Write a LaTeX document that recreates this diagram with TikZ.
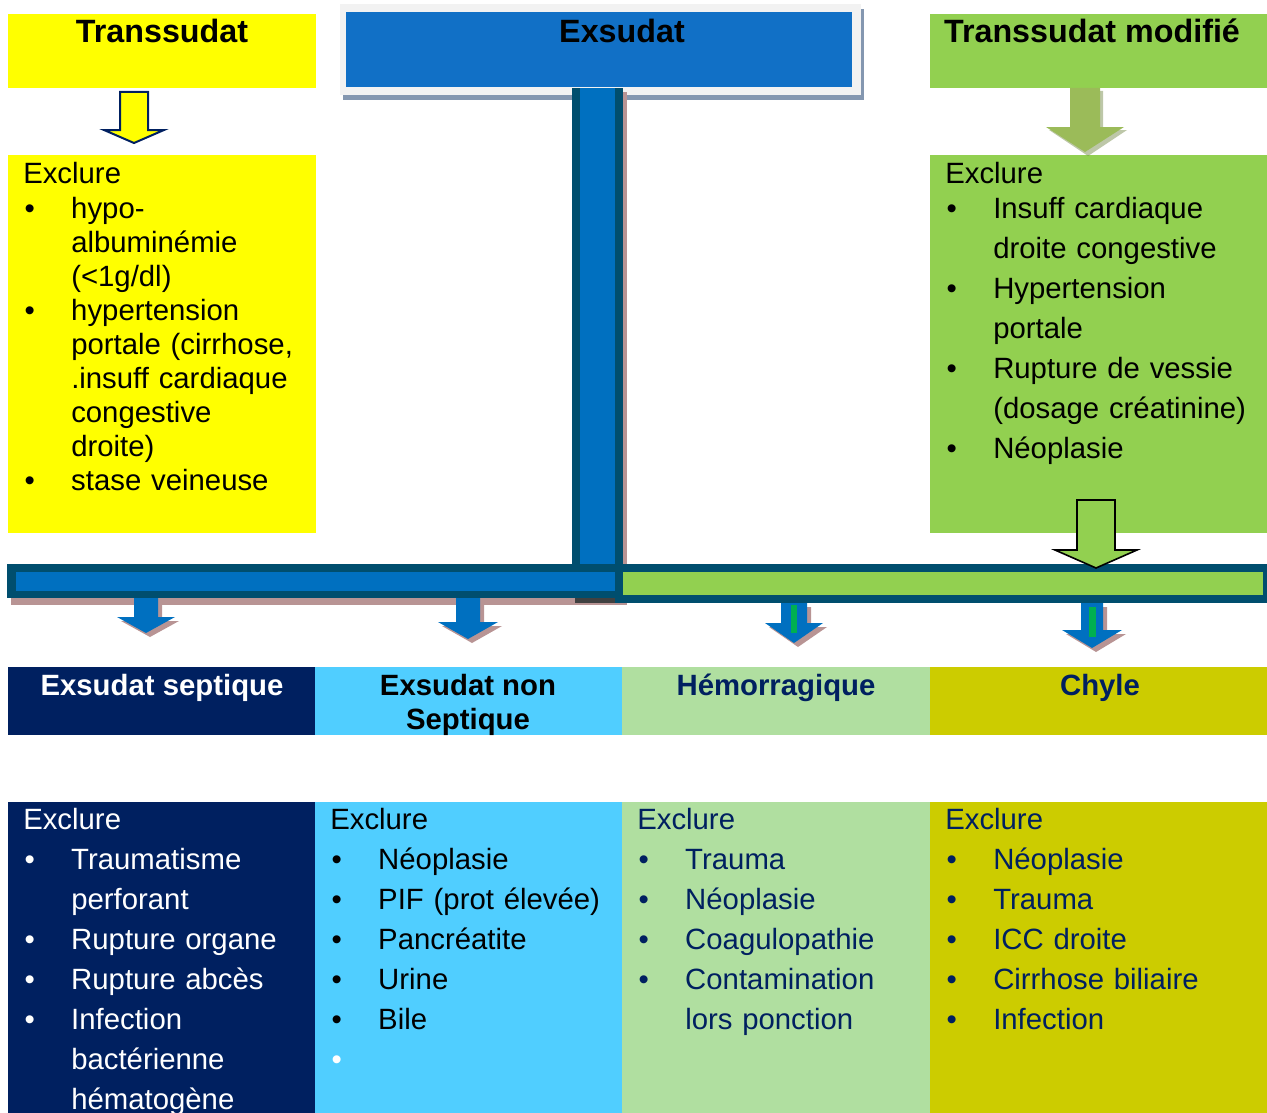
\documentclass[tikz,border=0pt]{standalone}
\usepackage{fontspec}
\setmainfont{Liberation Sans}

\definecolor{jaune}{RGB}{255,255,0}
\definecolor{bleuEx}{RGB}{17,112,198}
\definecolor{grisCadre}{RGB}{242,242,242}
\definecolor{ombreGris}{RGB}{132,151,176}
\definecolor{vertPomme}{RGB}{146,208,80}
\definecolor{vertOlive}{RGB}{155,187,89}
\definecolor{petrole}{RGB}{0,78,110}
\definecolor{bleuBarre}{RGB}{0,112,192}
\definecolor{ombreRose}{RGB}{184,148,148}
\definecolor{marine}{RGB}{0,32,96}
\definecolor{bleuCiel}{RGB}{80,206,255}
\definecolor{vertPale}{RGB}{176,223,160}
\definecolor{moutarde}{RGB}{204,204,0}
\definecolor{vertTrait}{RGB}{0,176,80}

% item of a list: bullet, then hanging text
\newcommand\puce[1]{\par\hangindent=36pt\hangafter=1\noindent\hbox to 36pt{\hskip1pt\textbullet\hfil}#1\par}
\newcommand\puceblanche{\par\noindent\hbox to 36pt{\hskip1pt\textcolor{white}{\textbullet}\hfil}\par}

% block arrow pointing down: centre x, top, head top, tip, half shaft, half head
\newcommand\flecheBas[7][]{%
  \path[#1] (#2-#6,#3) -- (#2+#6,#3) -- (#2+#6,#4) -- (#2+#7,#4) -- (#2,#5) -- (#2-#7,#4) -- (#2-#6,#4) -- cycle;}

\tikzset{
  titre/.style={font=\fontsize{22}{25.5}\selectfont\bfseries, inner sep=0pt, anchor=base},
  grandtitre/.style={titre, font=\fontsize{24.2}{28}\selectfont\bfseries},
  liste/.style={font=\fontsize{22}{30}\selectfont, inner sep=0pt, anchor=north west, text width=250pt, align=left},
  listeserree/.style={liste, font=\fontsize{22}{25.5}\selectfont},
}

\begin{document}
\begin{tikzpicture}[x=0.75pt,y=0.75pt,yscale=-1,xscale=1]
\useasboundingbox (0,0) rectangle (1267,1113);
\clip (0,0) rectangle (1267,1113);

%Top boxes
\fill[jaune] (8,14) rectangle (316,88);
\fill[ombreGris] (343,9) rectangle (864,100);
\fill[grisCadre] (340,4) rectangle (861,95);
\fill[bleuEx] (346,12) rectangle (852,87);
\fill[vertPomme] (930,14) rectangle (1267,88);

%Exclure boxes (top)
\fill[jaune] (8,155) rectangle (316,533);
\fill[vertPomme] (930,155) rectangle (1267,533);

%Arrows under the top boxes
\flecheBas[fill=jaune, draw=marine, line width=1.5]{134}{92}{130}{143}{14}{30}
\flecheBas[fill=vertOlive!70!black, opacity=0.45]{1088}{91}{130}{156}{15}{39}
\flecheBas[fill=vertOlive]{1085}{88}{127}{152}{15}{39}

%T bar: shadows
\fill[ombreRose] (11,598) rectangle (627,605);
\fill[ombreRose] (623,92) rectangle (627,605);
\fill[black!75] (575,598) rectangle (615,603);
%T bar: vertical
\fill[petrole] (572,88) rectangle (623,598);
\fill[bleuBarre] (580,88) rectangle (615,591);
%T bar: left
\fill[petrole] (7,564) rectangle (623,598);
\fill[bleuBarre] (16,572) rectangle (615,591);
%T bar: right
\fill[petrole] (615,564) rectangle (1267,603);
\fill[vertPomme] (623,572) rectangle (1263,595);

%Green arrow on the bar
\flecheBas[fill=vertPomme, draw=black, line width=1.2]{1096}{500}{550}{568}{19}{41}

%Blue arrows under the bar
\flecheBas[fill=ombreRose]{150}{602}{621}{637}{12}{29}
\flecheBas[fill=bleuBarre]{146}{598}{617}{633}{12}{29}
\flecheBas[fill=ombreRose]{472}{602}{626}{643}{12}{30}
\flecheBas[fill=bleuBarre]{468}{598}{622}{639}{12}{30}
\flecheBas[fill=ombreRose]{798}{607}{627}{647}{13}{29}
\flecheBas[fill=bleuBarre]{794}{603}{623}{643}{13}{29}
\fill[vertTrait] (791,605) rectangle (797,633);
\flecheBas[fill=ombreRose]{1096}{607}{634}{652}{11}{30}
\flecheBas[fill=bleuBarre]{1092}{603}{630}{648}{11}{30}
\fill[vertTrait] (1089,607) rectangle (1096,637);

%Category headers
\fill[marine] (8,667) rectangle (315,735);
\fill[bleuCiel] (315,667) rectangle (622,735);
\fill[vertPale] (622,667) rectangle (930,735);
\fill[moutarde] (930,667) rectangle (1267,735);

%Exclure boxes (bottom)
\fill[marine] (8,802) rectangle (315,1113);
\fill[bleuCiel] (315,802) rectangle (622,1113);
\fill[vertPale] (622,802) rectangle (930,1113);
\fill[moutarde] (930,802) rectangle (1267,1113);

% Titles
\node[grandtitre] (tTranssudat) at (162,43) {Transsudat};
\node[grandtitre] (tExsudat) at (622,43) {Exsudat};
\node[grandtitre] (tModifie) at (1092,43) {Transsudat modifié};
\node[titre, text=white] (tSeptique) at (162,695) {Exsudat septique};
\node[titre, anchor=north, align=center] (tNonSeptique) at (468,674) {Exsudat non\\Septique};
\node[titre, text=marine] (tHemo) at (776,695) {Hémorragique};
\node[titre, text=marine] (tChyle) at (1100,695) {Chyle};

% Lists
\node[listeserree] (lTranssudat) at (23,162) {Exclure\par\vskip1pt
  \puce{hypo-\newline albuminémie\newline (<1g/dl)}
  \puce{hypertension\newline portale (cirrhose,\newline .insuff cardiaque\newline congestive\newline droite)}
  \puce{stase veineuse}};
\node[liste] (lModifie) at (945,162) {Exclure\par\vskip-4pt
  \puce{Insuff cardiaque\newline droite congestive}
  \puce{Hypertension\newline portale}
  \puce{Rupture de vessie\newline (dosage créatinine)}
  \puce{Néoplasie}};
\node[liste, text=white] (lSeptique) at (23,808) {Exclure
  \puce{Traumatisme\newline perforant}
  \puce{Rupture organe}
  \puce{Rupture abcès}
  \puce{Infection\newline bactérienne\newline hématogène}};
\node[liste] (lNonSeptique) at (330,808) {Exclure
  \puce{Néoplasie}
  \puce{PIF (prot élevée)}
  \puce{Pancréatite}
  \puce{Urine}
  \puce{Bile}
  \puceblanche};
\node[liste, text=marine] (lHemo) at (637,808) {Exclure
  \puce{Trauma}
  \puce{Néoplasie}
  \puce{Coagulopathie}
  \puce{Contamination\newline lors ponction}};
\node[liste, text=marine] (lChyle) at (945,808) {Exclure
  \puce{Néoplasie}
  \puce{Trauma}
  \puce{ICC droite}
  \puce{Cirrhose biliaire}
  \puce{Infection}};

\end{tikzpicture}
\end{document}
